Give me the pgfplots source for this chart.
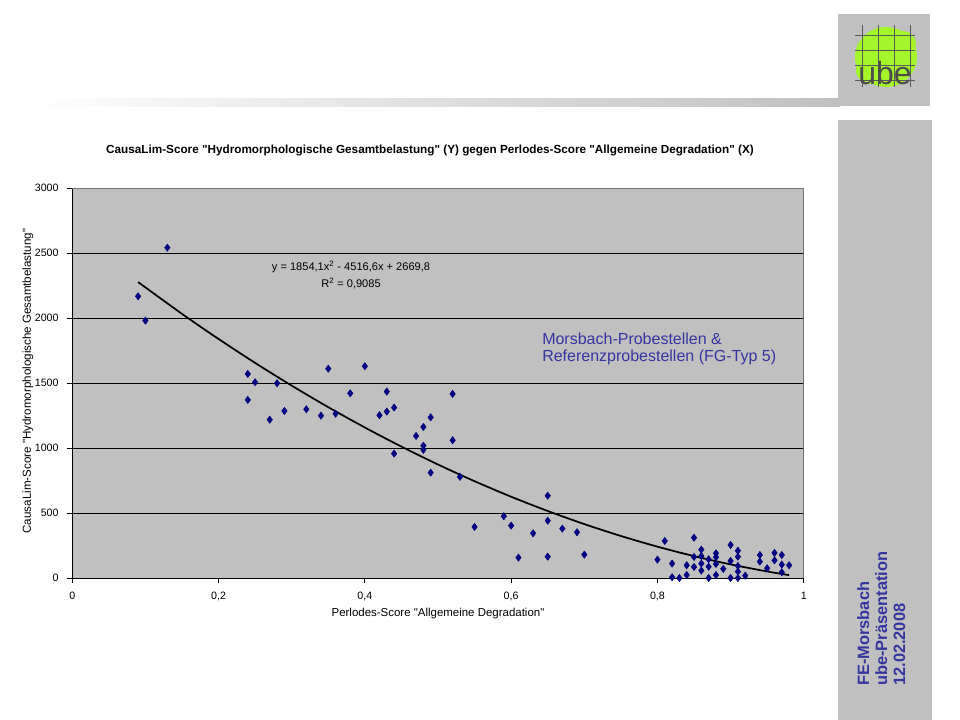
\documentclass[border=0pt]{standalone}
\usepackage{fontspec}
\setmainfont{Liberation Sans}
\usepackage{pgfplots}
\pgfplotsset{compat=1.18}
\definecolor{plotgray}{HTML}{C0C0C0}
\definecolor{navy}{HTML}{000080}
\definecolor{slate}{HTML}{3535A0}
\definecolor{lime}{HTML}{A4F52A}
\newcommand\q{\textquotedbl}
\begin{document}
\begin{tikzpicture}[x=0.75pt,y=0.75pt]
% page (coordinates in pixels, y measured upward)
\fill[white] (0,0) rectangle (960,720);
\useasboundingbox (0,0) rectangle (960,720);
\shade[left color=white, right color=plotgray] (30,613) rectangle (840,621);
% logo
\fill[plotgray] (838,614) rectangle (930,706);
\fill[lime] (886,663) ellipse [x radius=31, y radius=30];
\fill[lime] (870,650) circle (14);
\fill[lime] (903,676) circle (13);
\foreach \gx in {862,878,894,910} \draw[black!65, line width=0.6pt] (\gx,633) -- (\gx,695);
\foreach \gy in {640,655,670,685} \draw[black!65, line width=0.6pt] (855,\gy) -- (915,\gy);
\node[black!70, font=\fontsize{24}{24}\selectfont] at (885,647) {ube};
% right panel
\fill[plotgray] (838,0) rectangle (932,600);
\node[rotate=90, anchor=north west, inner sep=0pt, align=left, text=slate,
      font=\bfseries\fontsize{12.3}{13.5}\selectfont] at (857,34)
  {FE-Morsbach\\ube-Präsentation\\12.02.2008};
% titles
\node[font=\bfseries\fontsize{8.8}{10}\selectfont] at (430,569)
  {CausaLim-Score \q Hydromorphologische Gesamtbelastung\q{} (Y) gegen Perlodes-Score \q Allgemeine Degradation\q{} (X)};
\node[font=\fontsize{8.6}{10}\selectfont] at (438,106) {Perlodes-Score \q Allgemeine Degradation\q};
\node[rotate=90, font=\fontsize{8.7}{10}\selectfont] at (28,339)
  {CausaLim-Score \q Hydromorphologische Gesamtbelastung\q};

\begin{axis}[
    at={(54.2pt,106.3pt)}, anchor=south west,
    scale only axis, width=548.6pt, height=292.5pt,
    xmin=0, xmax=1, ymin=0, ymax=3000,
    xtick={0,0.2,0.4,0.6,0.8,1}, ytick={0,500,1000,1500,2000,2500,3000},
    axis x line*=bottom, axis y line*=left,
    axis line style={black, line width=0.8pt},
    axis background/.style={fill=plotgray},
    tick align=outside, major tick length=3.75pt,
    tick style={black, line width=0.8pt},
    ymajorgrids, grid style={black, line width=0.8pt},
    /pgf/number format/assume math mode=true,
    /pgf/number format/use comma,
    /pgf/number format/1000 sep={},
    ticklabel style={font=\fontsize{8}{10}\selectfont},
    yticklabel style={xshift=-3pt},
    xticklabel style={yshift=-3pt},
    clip=false,
]
\draw[black!55, line width=0.8pt] (rel axis cs:0,1) -- (rel axis cs:1,1) -- (rel axis cs:1,0);

\addplot[only marks, mark=diamond*, mark size=2.7pt, color=navy] coordinates {
(0.09,2169) (0.10,1982) (0.13,2543) (0.24,1572) (0.24,1372) (0.25,1508)
(0.27,1220) (0.28,1500) (0.29,1287) (0.32,1300) (0.34,1251) (0.35,1612)
(0.36,1266) (0.38,1423) (0.40,1631) (0.42,1254) (0.43,1436) (0.43,1282)
(0.44,1313) (0.44,959) (0.47,1095) (0.48,1164) (0.48,1020) (0.48,987)
(0.49,1238) (0.49,812) (0.52,1418) (0.52,1062) (0.53,780) (0.55,395)
(0.59,477) (0.60,405) (0.61,159) (0.63,346) (0.65,635) (0.65,443)
(0.65,166) (0.67,382) (0.69,354) (0.70,182)
(0.80,143) (0.81,287) (0.82,113) (0.82,8) (0.83,2) (0.84,100) (0.84,25)
(0.85,312) (0.85,164) (0.85,87) (0.86,220) (0.86,171) (0.86,113) (0.86,59)
(0.87,146) (0.87,89) (0.87,2) (0.88,192) (0.88,162) (0.88,110) (0.88,25)
(0.89,72) (0.90,256) (0.90,133) (0.90,2) (0.91,212) (0.91,166) (0.91,95)
(0.91,51) (0.91,2) (0.92,20) (0.94,179) (0.94,128) (0.95,77) (0.96,195)
(0.96,138) (0.97,179) (0.97,105) (0.97,46) (0.98,100)
};

% polynomial trend line (Excel): y = 1854,1x^2 - 4516,6x + 2669,8
\addplot[black, line width=1.3pt, smooth, no marks] coordinates {
(0.09,2278.3) (0.15,2034.0) (0.20,1840.6) (0.25,1656.5) (0.30,1481.7)
(0.35,1316.1) (0.40,1159.8) (0.45,1012.8) (0.50,875.0) (0.55,746.5)
(0.60,627.3) (0.65,517.4) (0.70,416.7) (0.75,325.3) (0.80,243.1)
(0.85,170.3) (0.90,106.7) (0.95,52.4) (0.98,24.2)
};
\end{axis}

% trend line label and series note
\node[align=center, font=\fontsize{8.3}{12.75}\selectfont] at (351,445)
  {y = 1854,1x\textsuperscript{2} - 4516,6x + 2669,8\\R\textsuperscript{2} = 0,9085};
\node[anchor=west, align=left, text=slate, inner sep=0pt, font=\fontsize{12}{12.75}\selectfont] at (542,371.5)
  {Morsbach-Probestellen \&\\Referenzprobestellen (FG-Typ 5)};
\end{tikzpicture}
\end{document}
